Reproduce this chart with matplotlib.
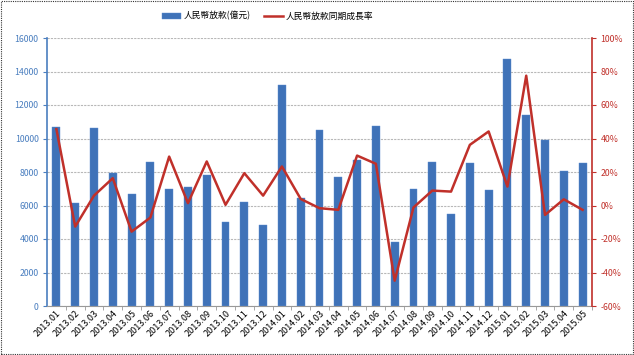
import matplotlib
matplotlib.use("Agg")
import matplotlib.pyplot as plt
from matplotlib.patches import Rectangle
from matplotlib.ticker import FuncFormatter, MultipleLocator
import numpy as np

plt.rcParams['font.family'] = ['Noto Sans CJK TC', 'DejaVu Sans']

months = ["2013.01","2013.02","2013.03","2013.04","2013.05","2013.06","2013.07","2013.08",
          "2013.09","2013.10","2013.11","2013.12","2014.01","2014.02","2014.03","2014.04",
          "2014.05","2014.06","2014.07","2014.08","2014.09","2014.10","2014.11","2014.12",
          "2015.01","2015.02","2015.03","2015.04","2015.05"]
loans = [10700, 6175, 10620, 7930, 6690, 8625, 6970, 7130, 7850, 5040, 6235, 4820,
         13210, 6430, 10500, 7730, 8690, 10740, 3840, 6990, 8570, 5500, 8510, 6930,
         14740, 11420, 9920, 8030, 8510]
growth = [45.6, -12.6, 5.9, 16.3, -15.6, -7.2, 29.2, 1.4, 26.3, 0.4, 19.3, 5.9,
          23.3, 3.9, -1.6, -2.6, 29.8, 24.9, -44.9, -1.2, 8.9, 8.3, 36.2, 44.2,
          11.3, 77.5, -5.6, 3.7, -2.6]
bar_label = "人民幣放款(億元)"
line_label = "人民幣放款同期成長率"

blue = "#3f72b8"
red = "#c0302a"
axblue = "#4a7ebf"

fig = plt.figure(figsize=(6.34, 3.55), dpi=100)
ax = fig.add_axes([47/634, 1-306/355, (592-47)/634, (306-38)/355])
x = np.arange(len(months))
b = ax.bar(x, loans, width=0.42, color=blue, edgecolor="#5b8bd0", linewidth=0.3, zorder=2, label=bar_label)
ax.set_ylim(0, 16000)
ax.set_xlim(-0.5, len(months)-0.5)
ax.yaxis.set_major_locator(MultipleLocator(2000))
ax.grid(axis='y', color='#b8b8b8', linestyle=(0, (2, 1)), linewidth=0.8, zorder=0)
ax.set_axisbelow(True)
ax.set_xticks(x)
ax.set_xticklabels(months, rotation=45, ha='right', rotation_mode='anchor', fontsize=6.5)
ax.tick_params(axis='x', length=0, pad=2)
ax.set_xticks(x + 0.5, minor=True)
ax.tick_params(axis='x', which='minor', length=3, color='#999999')
ax.tick_params(axis='y', colors=axblue, labelsize=6.3, length=3, pad=3)
for s in ['top', 'right']:
    ax.spines[s].set_visible(False)
ax.spines['left'].set_color(axblue)
ax.spines['left'].set_linewidth(1.2)
ax.spines['bottom'].set_color('#999999')

ax2 = ax.twinx()
l, = ax2.plot(x, growth, color=red, linewidth=1.8, zorder=3, label=line_label)
ax2.set_ylim(-60, 100)
ax2.yaxis.set_major_locator(MultipleLocator(20))
ax2.yaxis.set_major_formatter(FuncFormatter(lambda v, p: f"{int(round(v))}%"))
ax2.tick_params(axis='y', colors=red, labelsize=6.3, length=3, pad=3)
for s in ['top', 'left', 'bottom']:
    ax2.spines[s].set_visible(False)
ax2.spines['right'].set_color(red)
ax2.spines['right'].set_linewidth(1.2)

fig.legend(handles=[b, l], labels=[bar_label, line_label], loc='center left',
           bbox_to_anchor=(158/634, 1-16/355), borderaxespad=0,
           ncol=2, frameon=False, fontsize=6.3, handlelength=2.2, columnspacing=1.5, handletextpad=0.3)

fig.patches.append(Rectangle((0.002, 0.003), 0.996, 0.994, transform=fig.transFigure, fill=False,
                             edgecolor='#333333', linestyle=(0, (1, 1)), linewidth=0.8))
fig.savefig("out.png", dpi=100)
